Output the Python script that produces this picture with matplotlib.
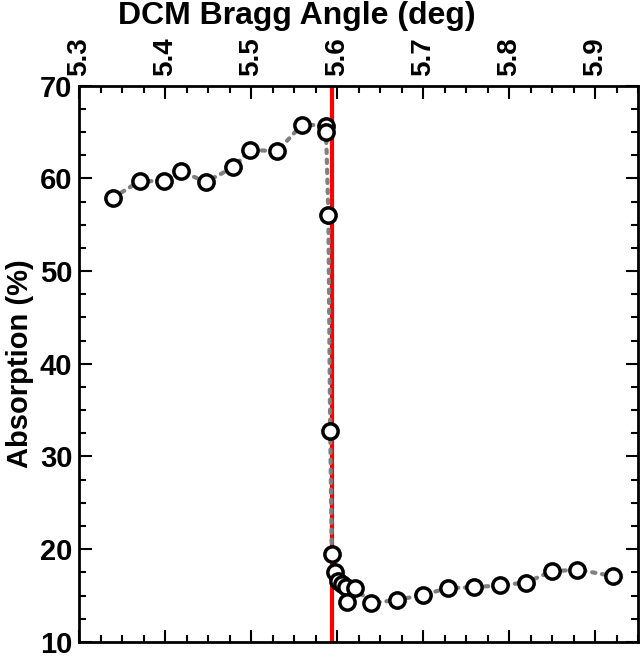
import numpy as np
import matplotlib
matplotlib.use("Agg")
import matplotlib.pyplot as plt
from matplotlib.ticker import MultipleLocator

plt.rcParams['font.family'] = ['Liberation Sans', 'DejaVu Sans']
plt.rcParams['font.weight'] = 'bold'

# --- data ---
bragg_angle = [5.339, 5.370, 5.398, 5.418, 5.447, 5.479, 5.499, 5.530, 5.559,
               5.5867, 5.5870, 5.5897, 5.5918, 5.5937, 5.5975, 5.6013, 5.6053,
               5.6100, 5.6118, 5.6208, 5.6394, 5.6696, 5.7003, 5.7293, 5.7596,
               5.7895, 5.8194, 5.8496, 5.8794, 5.9206]
absorption = [57.9, 59.7, 59.7, 60.8, 59.6, 61.2, 63.1, 62.9, 65.8,
              65.7, 65.0, 56.0, 32.7, 19.5, 17.5, 16.6, 16.2,
              15.9, 14.3, 15.8, 14.2, 14.5, 15.1, 15.8, 15.9,
              16.1, 16.4, 17.6, 17.8, 17.1]
edge_angle = 5.594
x_ticks = [5.3, 5.4, 5.5, 5.6, 5.7, 5.8, 5.9]
y_ticks = [10, 20, 30, 40, 50, 60, 70]

fig = plt.figure(figsize=(6.4, 6.59), dpi=100)
ax = fig.add_axes([0.124, 0.026, 0.873, 0.844])

ax.axvline(edge_angle, color='#ff0000', lw=3, zorder=1)
ax.plot(bragg_angle, absorption, color='#808080', lw=3, ls=(0, (0.8, 1.6)),
        dash_capstyle='round', marker='o', ms=11, mfc='white', mec='black',
        mew=2.5, zorder=3)

ax.set_xlim(5.3, 5.95)
ax.set_ylim(10, 70)
ax.set_xticks(x_ticks)
ax.set_yticks(y_ticks)
ax.xaxis.set_minor_locator(MultipleLocator(0.025))
ax.yaxis.set_minor_locator(MultipleLocator(2.5))

ax.xaxis.tick_top()
ax.xaxis.set_label_position('top')
ax.tick_params(which='both', direction='in', top=True, bottom=True,
               left=True, right=True, width=1.5)
ax.tick_params(which='major', length=9)
ax.tick_params(which='minor', length=5)
ax.tick_params(axis='x', labelrotation=90, pad=7, labelsize=20)
ax.tick_params(axis='y', pad=5, labelsize=21)
for lab in ax.get_xticklabels() + ax.get_yticklabels():
    lab.set_fontweight('bold')

ax.set_xlabel('DCM Bragg Angle (deg)', fontsize=23, fontweight='bold')
ax.xaxis.set_label_coords(0.464, 0.975, transform=fig.transFigure)
ax.xaxis.label.set_verticalalignment('center')
ax.set_ylabel('Absorption (%)', fontsize=21, fontweight='bold', labelpad=4)
for s in ax.spines.values():
    s.set_linewidth(2)

fig.savefig('out.png', dpi=100)
